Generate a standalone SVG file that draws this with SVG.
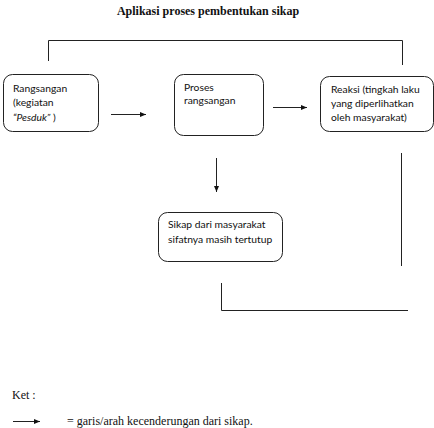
<svg xmlns="http://www.w3.org/2000/svg" width="434" height="428" viewBox="0 0 434 428">
<style>
.box{fill:#fff;stroke:#222;stroke-width:1}
.ln{fill:none;stroke:#222;stroke-width:1}
.t{font-family:Lato,"Open Sans",sans-serif;font-size:10.3px;fill:#111}
.serif{font-family:"Liberation Serif","Times New Roman",serif;fill:#111}
</style>
<defs>
<marker id="ah" viewBox="0 0 6 6" refX="6" refY="3" markerWidth="6" markerHeight="6" markerUnits="userSpaceOnUse" orient="auto">
<path d="M0,0.5 L6,3 L0,5.5 Z" fill="#111"/>
</marker>
</defs>
<text class="serif" x="208" y="15" font-size="12" font-weight="bold" text-anchor="middle">Aplikasi proses pembentukan sikap</text>
<g id="n1">
<rect class="box" x="3.5" y="74.5" width="95" height="57" rx="9"/>
<text class="t" x="13" y="92">Rangsangan</text>
<text class="t" x="13" y="106">(kegiatan</text>
<text class="t" x="13" y="121"><tspan font-style="italic">“Pesduk”</tspan> )</text>
</g>
<g id="n2">
<rect class="box" x="174.5" y="74.5" width="89" height="61" rx="9"/>
<text class="t" x="184" y="91">Proses</text>
<text class="t" x="184" y="104">rangsangan</text>
</g>
<g id="n3">
<rect class="box" x="320.5" y="76.5" width="113" height="55" rx="9"/>
<text class="t" x="331" y="93">Reaksi (tingkah laku</text>
<text class="t" x="331" y="107">yang diperlihatkan</text>
<text class="t" x="331" y="121">oleh masyarakat)</text>
</g>
<g id="n4">
<rect class="box" x="158.5" y="212.5" width="124" height="49" rx="9"/>
<text class="t" x="168" y="228">Sikap dari masyarakat</text>
<text class="t" x="168" y="243">sifatnya masih tertutup</text>
</g>
<g id="connectors">
<line class="ln" x1="111" y1="114.5" x2="146" y2="114.5" marker-end="url(#ah)"/>
<line class="ln" x1="273" y1="107.5" x2="307" y2="107.5" marker-end="url(#ah)"/>
<line class="ln" x1="216.5" y1="158" x2="216.5" y2="192" marker-end="url(#ah)"/>
<polyline class="ln" points="48.5,61 48.5,40.5 402.5,40.5 402.5,65"/>
<line class="ln" x1="401.5" y1="153" x2="401.5" y2="266"/>
<polyline class="ln" points="221.5,283 221.5,310.5 408,310.5"/>
</g>
<text class="serif" x="12" y="399" font-size="12">Ket :</text>
<line class="ln" x1="13" y1="421.5" x2="40" y2="421.5" marker-end="url(#ah)"/>
<text class="serif" x="67" y="425" font-size="12">= garis/arah kecenderungan dari sikap.</text>
</svg>
